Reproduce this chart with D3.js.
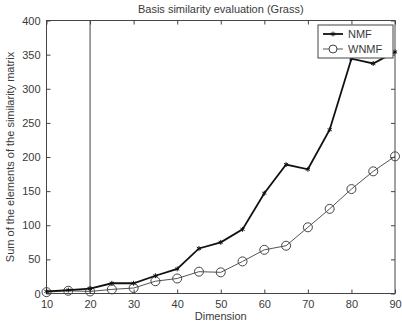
<!DOCTYPE html>
<html>
<head>
<meta charset="utf-8">
<script src="https://cdn.jsdelivr.net/npm/d3@7"></script>
<style>
  body { margin: 0; background: #fff; }
  svg text { font-family: "Liberation Sans", Arial, sans-serif; fill: #3a3a3a; }
</style>
</head>
<body>
<script>
var dims = [10, 15, 20, 25, 30, 35, 40, 45, 50, 55, 60, 65, 70, 75, 80, 85, 90];
var nmf = [3, 5, 7, 15, 15, 26, 36, 66, 75, 94, 147, 189, 182, 240, 344, 337, 354];
var wnmf = [2, 4, 3, 6, 8, 18, 22, 32, 31, 47, 64, 70, 97, 124, 153, 179, 201];
var xTicks = [10, 20, 30, 40, 50, 60, 70, 80, 90];
var yTicks = [0, 50, 100, 150, 200, 250, 300, 350, 400];

(function () {
    var width = 402, height = 323;
    var padL = 46.5, padR = 395, padT = 20.5, padB = 293.5;

    var svg = d3.select("body").append("svg")
        .attr("width", width)
        .attr("height", height);

    var x = d3.scaleLinear().domain([10, 90]).range([padL, padR]);
    var y = d3.scaleLinear().domain([0, 400]).range([padB, padT]);

    // frame
    svg.append("rect")
        .attr("x", padL).attr("y", padT)
        .attr("width", padR - padL).attr("height", padB - padT)
        .attr("fill", "none").attr("stroke", "#444").attr("stroke-width", 1);

    var axisStyle = function (g) {
        g.select(".domain").remove();
        g.selectAll("line").attr("stroke", "#444");
        g.selectAll("text").style("font-size", "11px");
    };

    svg.append("g")
        .attr("transform", "translate(0," + padB + ")")
        .call(d3.axisBottom(x).tickValues(xTicks).tickSizeInner(-4).tickPadding(7))
        .call(axisStyle);
    svg.append("g")
        .attr("transform", "translate(0," + padT + ")")
        .call(d3.axisTop(x).tickValues(xTicks).tickSizeInner(-4).tickFormat(""))
        .call(axisStyle);
    svg.append("g")
        .attr("transform", "translate(" + padL + ",0)")
        .call(d3.axisLeft(y).tickValues(yTicks).tickSizeInner(-4).tickPadding(6))
        .call(axisStyle);
    svg.append("g")
        .attr("transform", "translate(" + padR + ",0)")
        .call(d3.axisRight(y).tickValues(yTicks).tickSizeInner(-4).tickFormat(""))
        .call(axisStyle);

    // vertical marker at dimension 20
    svg.append("line")
        .attr("x1", x(20)).attr("x2", x(20))
        .attr("y1", padT).attr("y2", padB)
        .attr("stroke", "#444").attr("stroke-width", 1);

    var line = d3.line()
        .x(function (d) { return x(d[0]); })
        .y(function (d) { return y(d[1]); });

    var wData = d3.zip(dims, wnmf);
    var nData = d3.zip(dims, nmf);

    svg.append("path")
        .datum(wData)
        .attr("d", line)
        .attr("fill", "none").attr("stroke", "#555").attr("stroke-width", 1);
    svg.append("g").selectAll("circle")
        .data(wData).enter().append("circle")
        .attr("cx", function (d) { return x(d[0]); })
        .attr("cy", function (d) { return y(d[1]); })
        .attr("r", 4.5)
        .attr("fill", "none").attr("stroke", "#444").attr("stroke-width", 1);

    svg.append("path")
        .datum(nData)
        .attr("d", line)
        .attr("fill", "none").attr("stroke", "#111").attr("stroke-width", 1.8);
    svg.append("g").selectAll("path.star")
        .data(nData).enter().append("path")
        .attr("class", "star")
        .attr("transform", function (d) { return "translate(" + x(d[0]) + "," + y(d[1]) + ")"; })
        .attr("d", d3.symbol().type(d3.symbolAsterisk).size(16))
        .attr("fill", "none").attr("stroke", "#111").attr("stroke-width", 1);

    // title and axis labels
    svg.append("text")
        .attr("x", (padL + padR) / 2).attr("y", 13)
        .attr("text-anchor", "middle")
        .style("font-size", "11px")
        .text("Basis similarity evaluation (Grass)");
    svg.append("text")
        .attr("x", (padL + padR) / 2).attr("y", 320)
        .attr("text-anchor", "middle")
        .style("font-size", "11px")
        .text("Dimension");
    svg.append("text")
        .attr("transform", "translate(14," + ((padT + padB) / 2) + ") rotate(-90)")
        .attr("text-anchor", "middle")
        .style("font-size", "11px")
        .text("Sum of the elements of the similarity matrix");

    // legend
    var lg = svg.append("g").attr("transform", "translate(318,25)");
    lg.append("rect")
        .attr("width", 75).attr("height", 33)
        .attr("fill", "#fff").attr("stroke", "#444");
    lg.append("line").attr("x1", 5).attr("x2", 25).attr("y1", 9).attr("y2", 9)
        .attr("stroke", "#111").attr("stroke-width", 1.8);
    lg.append("path").attr("transform", "translate(15,9)")
        .attr("d", d3.symbol().type(d3.symbolAsterisk).size(16))
        .attr("fill", "none").attr("stroke", "#111");
    lg.append("text").attr("x", 30).attr("y", 13).style("font-size", "11px").text("NMF");
    lg.append("line").attr("x1", 5).attr("x2", 25).attr("y1", 24).attr("y2", 24)
        .attr("stroke", "#555").attr("stroke-width", 1);
    lg.append("circle").attr("cx", 15).attr("cy", 24).attr("r", 4)
        .attr("fill", "#fff").attr("stroke", "#444");
    lg.append("text").attr("x", 30).attr("y", 28).style("font-size", "11px").text("WNMF");
})();
</script>
</body>
</html>
